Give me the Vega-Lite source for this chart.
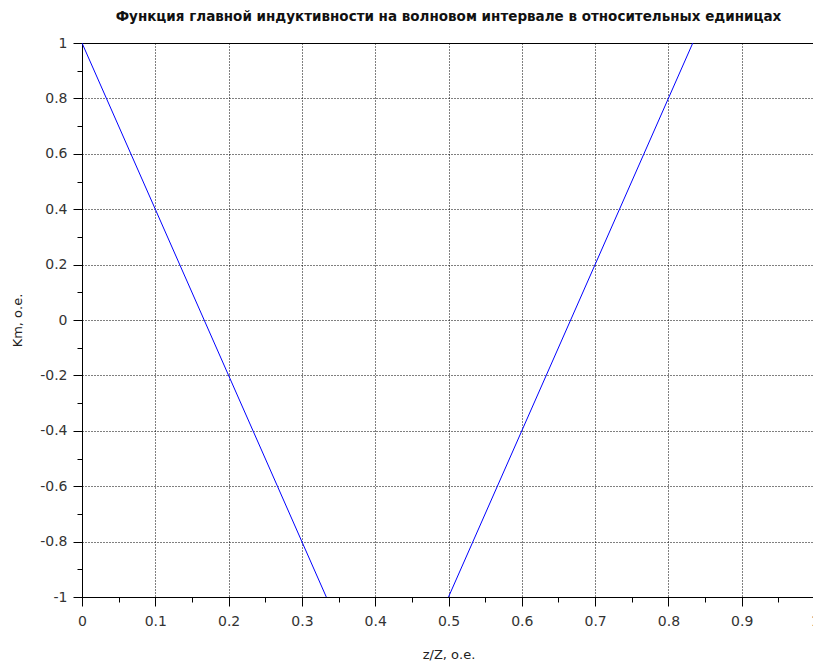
{
  "$schema": "https://vega.github.io/schema/vega-lite/v6.json",
  "autosize": {"type": "none"},
  "width": 733,
  "height": 554,
  "padding": {"left": 82, "top": 43, "right": 0, "bottom": 64},
  "background": "white",
  "config": {
    "view": {"stroke": "black", "strokeWidth": 1},
    "font": "DejaVu Sans"
  },
  "title": {
    "text": "Функция главной индуктивности на волновом интервале в относительных единицах",
    "font": "DejaVu Sans",
    "fontSize": 13.5,
    "fontWeight": "bold",
    "color": "#111111",
    "anchor": "middle",
    "offset": 13
  },
  "data": {
    "values": [
      {"z": 0, "km": 1, "seg": "a"},
      {"z": 0.3333, "km": -1, "seg": "a"},
      {"z": 0.5, "km": -1, "seg": "b"},
      {"z": 0.8333, "km": 1, "seg": "b"}
    ]
  },
  "mark": {"type": "line", "color": "#0000ff", "strokeWidth": 1, "clip": true},
  "encoding": {
    "x": {
      "field": "z",
      "type": "quantitative",
      "scale": {"domain": [0, 1], "nice": false, "zero": false},
      "axis": {
        "title": "z/Z, о.е.",
        "titleFont": "DejaVu Sans",
        "titleFontSize": 13,
        "titleFontWeight": "normal",
        "titleColor": "#222222",
        "titlePadding": 20,
        "values": [0, 0.05, 0.1, 0.15, 0.2, 0.25, 0.3, 0.35, 0.4, 0.45, 0.5, 0.55, 0.6, 0.65, 0.7, 0.75, 0.8, 0.85, 0.9, 0.95, 1],
        "labelExpr": "abs(datum.value*10 - round(datum.value*10)) < 0.001 ? '' + datum.value : ''",
        "labelFont": "DejaVu Sans",
        "labelFontSize": 14,
        "labelColor": "#333333",
        "labelPadding": 8,
        "labelFlush": false,
        "labelOverlap": false,
        "domainColor": "black",
        "domainWidth": 1,
        "tickColor": "black",
        "tickWidth": 1,
        "tickSize": {"condition": {"test": "abs(datum.value*10 - round(datum.value*10)) < 0.001", "value": 9}, "value": 5},
        "grid": true,
        "gridColor": "black",
        "gridDash": [1, 2],
        "gridWidth": 1,
        "gridOpacity": {"condition": {"test": "abs(datum.value*10 - round(datum.value*10)) < 0.001", "value": 1}, "value": 0}
      }
    },
    "y": {
      "field": "km",
      "type": "quantitative",
      "scale": {"domain": [-1, 1], "nice": false, "zero": false},
      "axis": {
        "title": "Km, о.е.",
        "titleFont": "DejaVu Sans",
        "titleFontSize": 13,
        "titleFontWeight": "normal",
        "titleColor": "#222222",
        "titlePadding": 15,
        "values": [-1, -0.9, -0.8, -0.7, -0.6, -0.5, -0.4, -0.3, -0.2, -0.1, 0, 0.1, 0.2, 0.3, 0.4, 0.5, 0.6, 0.7, 0.8, 0.9, 1],
        "labelExpr": "abs(datum.value*5 - round(datum.value*5)) < 0.001 ? '' + datum.value : ''",
        "labelFont": "DejaVu Sans",
        "labelFontSize": 14,
        "labelColor": "#333333",
        "labelPadding": 6,
        "labelFlush": false,
        "labelOverlap": false,
        "domainColor": "black",
        "domainWidth": 1,
        "tickColor": "black",
        "tickWidth": 1,
        "tickSize": {"condition": {"test": "abs(datum.value*5 - round(datum.value*5)) < 0.001", "value": 9}, "value": 5},
        "grid": true,
        "gridColor": "black",
        "gridDash": [1, 2],
        "gridWidth": 1,
        "gridOpacity": {"condition": {"test": "abs(datum.value*5 - round(datum.value*5)) < 0.001", "value": 1}, "value": 0}
      }
    },
    "detail": {"field": "seg", "type": "nominal"}
  }
}
